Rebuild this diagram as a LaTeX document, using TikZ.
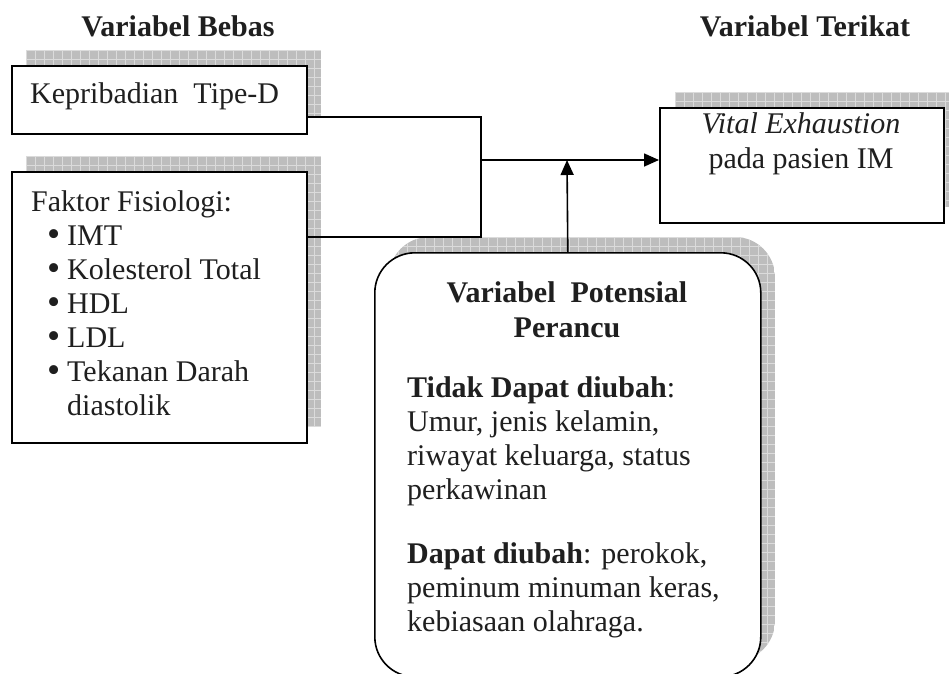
\documentclass[tikz,border=0pt]{standalone}
\usepackage{fontspec}
\setmainfont{Liberation Serif}
\usetikzlibrary{arrows.meta}
\newcommand\bulletitem{\hspace*{16pt}\makebox[20pt][l]{\raisebox{-1pt}{\scalebox{1.25}{\textbullet}}}}
\begin{document}
\begin{tikzpicture}[x=1pt,y=-1pt,
  boxline/.style={draw=black, line width=1.6pt, fill=white, inner sep=0pt, anchor=north west},
  txt/.style={inner sep=0pt, font=\fontsize{30}{34}\selectfont, text=black!88},
  hdr/.style={inner sep=0pt, font=\fontsize{30}{35}\selectfont\bfseries, text=black!88},
  conn/.style={line width=1.6pt, draw=black, line join=miter},
  arr/.style={conn, -{Triangle[length=15pt,width=13pt]}},
  shadowfill/.style={fill=gray!52},
  gridline/.style={draw=gray!28, line width=0.6pt}
]
\useasboundingbox (0,0) rectangle (949,673);

% shadows
\begin{scope}
  \clip (26,50) rectangle (321,118);
  \fill[shadowfill] (26,50) rectangle (321,118);
  \foreach \gx in {26,35,...,321} \draw[gridline] (\gx,50) -- (\gx,118);
  \foreach \gy in {50,59,...,118} \draw[gridline] (26,\gy) -- (321,\gy);
\end{scope}
\begin{scope}
  \clip (26,156) rectangle (321,427);
  \fill[shadowfill] (26,156) rectangle (321,427);
  \foreach \gx in {26,35,...,321} \draw[gridline] (\gx,156) -- (\gx,427);
  \foreach \gy in {156,165,...,427} \draw[gridline] (26,\gy) -- (321,\gy);
\end{scope}
\begin{scope}
  \clip (675,92) rectangle (960,207);
  \fill[shadowfill] (675,92) rectangle (960,207);
  \foreach \gx in {675,684,...,960} \draw[gridline] (\gx,92) -- (\gx,207);
  \foreach \gy in {92,101,...,207} \draw[gridline] (675,\gy) -- (960,\gy);
\end{scope}
\begin{scope}
  \clip[rounded corners=40pt] (389,237) rectangle (775,661);
  \fill[shadowfill] (389,237) rectangle (775,661);
  \foreach \gx in {389,398,...,775} \draw[gridline] (\gx,237) -- (\gx,661);
  \foreach \gy in {237,246,...,661} \draw[gridline] (389,\gy) -- (775,\gy);
\end{scope}

% boxes
\node[boxline, minimum width=295pt, minimum height=68pt] (b1) at (11,65) {};
\node[boxline, minimum width=295pt, minimum height=271pt] (b2) at (11,171) {};
\node[boxline, minimum width=284pt, minimum height=115pt] (b3) at (659,107) {};
\node[boxline, rounded corners=40pt, minimum width=386pt, minimum height=424pt] (b4) at (374,252) {};

% headers
\node[hdr, anchor=base] (h1) at (178,36) {Variabel Bebas};
\node[hdr, anchor=base] (h2) at (805,36) {Variabel Terikat};

% texts (multi-line nodes anchored at the baseline of their last line)
\node[txt, anchor=base west] (t1) at (30,103) {Kepribadian\ \ Tipe-D};
\node[txt, anchor=base west, align=left] (t2) at (31,415) {Faktor Fisiologi:\\
\bulletitem IMT\\
\bulletitem Kolesterol Total\\
\bulletitem HDL\\
\bulletitem LDL\\
\bulletitem Tekanan Darah\\
\hspace*{36pt}diastolik};
\node[hdr, font=\fontsize{30}{35}\selectfont, anchor=base, align=center] (t3) at (801,168) {\textit{Vital Exhaustion}\\pada pasien IM};
\node[hdr, anchor=base, align=center] (t4) at (567,337) {Variabel\ \ Potensial\\Perancu};
\node[txt, anchor=base west, align=left] (t5) at (407,499) {\textbf{Tidak Dapat diubah}:\\
Umur, jenis kelamin,\\riwayat keluarga, status\\perkawinan};
\node[txt, anchor=base west, align=left] (t6) at (407,631) {\textbf{Dapat diubah}: perokok,\\
peminum minuman keras,\\kebiasaan olahraga.};

% connectors
\coordinate (j1) at (481,117);
\coordinate (j2) at (481,237);
\coordinate (j3) at (481,160);
\coordinate (jt) at (567,160);
\draw[conn] (b1.east |- j1) -- (j1) -- (j2) -- (b2.east |- j2);
\draw[arr] (j3) -- (b3.west |- j3);
\draw[arr] (b4.north) -- (jt);
\end{tikzpicture}
\end{document}
